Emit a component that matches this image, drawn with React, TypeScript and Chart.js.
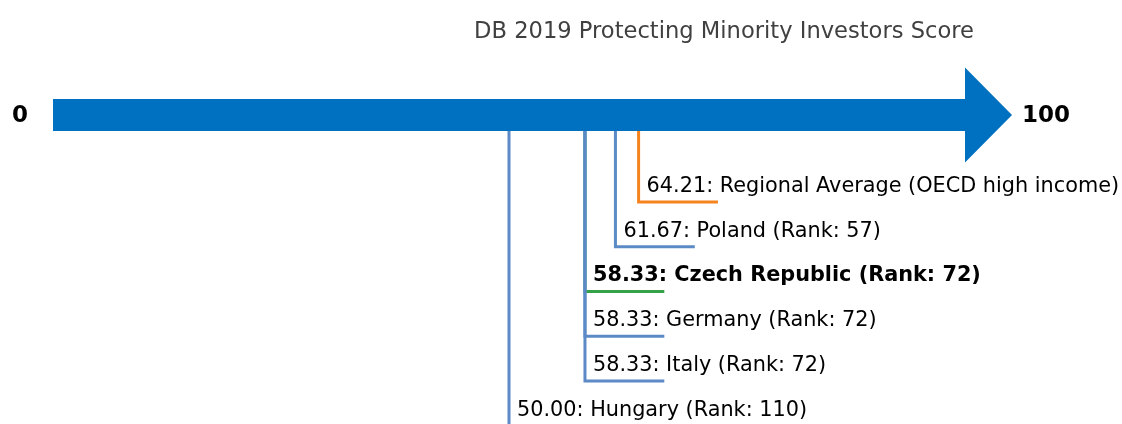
import React, { useEffect, useRef } from "react";
import { Chart, registerables } from "chart.js";

Chart.register(...registerables);

const title = "DB 2019 Protecting Minority Investors Score";
const axisMin = 0;
const axisMax = 100;
const entryNames = [
  "Regional Average (OECD high income)",
  "Poland (Rank: 57)",
  "Czech Republic (Rank: 72)",
  "Germany (Rank: 72)",
  "Italy (Rank: 72)",
  "Hungary (Rank: 110)",
];
const entryScores = [64.21, 61.67, 58.33, 58.33, 58.33, 50.0];
const entryLevels = [1, 2, 3, 4, 5, 6];
const entryColors = ["#F5841F", "#5B8AC6", "#35A24A", "#5B8AC6", "#5B8AC6", "#5B8AC6"];
const entryBold = [false, false, true, false, false, false];

// style / layout constants
const ARROW_COLOR = "#0070C0";
const ARROW_LEVEL = -0.942;
const ARROW_BOTTOM_LEVEL = -0.585;
const TICK_LEN = 8.7;
const FONT = "'DejaVu Sans', sans-serif";

const arrowPlugin = {
  id: "arrowPlugin",
  beforeDatasetsDraw(chart: any) {
    const { ctx, scales } = chart;
    const x = scales.x;
    const y = scales.y;
    const x0 = x.getPixelForValue(axisMin);
    const x1 = x.getPixelForValue(axisMax);
    const tip = x1 + 47;
    const cy = y.getPixelForValue(ARROW_LEVEL);
    const bh = 16;
    const hh = 47.5;
    ctx.save();
    ctx.fillStyle = ARROW_COLOR;
    ctx.beginPath();
    ctx.moveTo(x0, cy - bh);
    ctx.lineTo(x1, cy - bh);
    ctx.lineTo(x1, cy - hh);
    ctx.lineTo(tip, cy);
    ctx.lineTo(x1, cy + hh);
    ctx.lineTo(x1, cy + bh);
    ctx.lineTo(x0, cy + bh);
    ctx.closePath();
    ctx.fill();

    ctx.fillStyle = "#000";
    ctx.font = `bold 23px ${FONT}`;
    ctx.textBaseline = "middle";
    ctx.textAlign = "center";
    ctx.fillText(String(axisMin), 20, cy + 1);
    ctx.textAlign = "left";
    ctx.fillText(String(axisMax), tip + 10, cy + 1);

    ctx.fillStyle = "#404040";
    ctx.font = `22.6px ${FONT}`;
    ctx.textAlign = "center";
    ctx.textBaseline = "middle";
    ctx.fillText(title, 724, 32);
    ctx.restore();
  },
  afterDatasetsDraw(chart: any) {
    const { ctx, scales } = chart;
    ctx.save();
    ctx.textAlign = "left";
    ctx.textBaseline = "alphabetic";
    entryNames.forEach((name, i) => {
      const px = scales.x.getPixelForValue(entryScores[i]);
      const py = scales.y.getPixelForValue(entryLevels[i]);
      ctx.font = `${entryBold[i] ? "bold " : ""}20.8px ${FONT}`;
      ctx.fillStyle = "#000";
      ctx.fillText(`${entryScores[i].toFixed(2)}: ${name}`, px + 8, py - 10);
    });
    ctx.restore();
  },
};

export default function App() {
  const ref = useRef<HTMLCanvasElement>(null);
  useEffect(() => {
    if (!ref.current) return;
    const datasets = entryNames.map((name, i) => ({
      label: name,
      data: [
        { x: entryScores[i], y: ARROW_BOTTOM_LEVEL },
        { x: entryScores[i], y: entryLevels[i] },
        { x: entryScores[i] + TICK_LEN, y: entryLevels[i] },
      ],
      borderColor: entryColors[i],
      borderWidth: 3,
      pointRadius: 0,
      fill: false,
      tension: 0,
      borderJoinStyle: "miter" as const,
      order: entryNames.length - i,
    }));
    const chart = new Chart(ref.current, {
      type: "line",
      data: { datasets },
      options: {
        animation: false,
        responsive: false,
        maintainAspectRatio: false,
        layout: { padding: { left: 53, right: 157, top: 0, bottom: 0 } },
        plugins: { legend: { display: false }, tooltip: { enabled: false }, title: { display: false } },
        scales: {
          x: { type: "linear", min: axisMin, max: axisMax, display: false },
          y: { type: "linear", min: -3.51, max: 5.96, reverse: true, display: false },
        },
      },
      plugins: [arrowPlugin],
    });
    return () => chart.destroy();
  }, []);
  return (
    <div style={{ position: "absolute", left: 0, top: 0, width: 1122, height: 424, background: "#fff" }}>
      <canvas ref={ref} width={1122} height={424} />
    </div>
  );
}
